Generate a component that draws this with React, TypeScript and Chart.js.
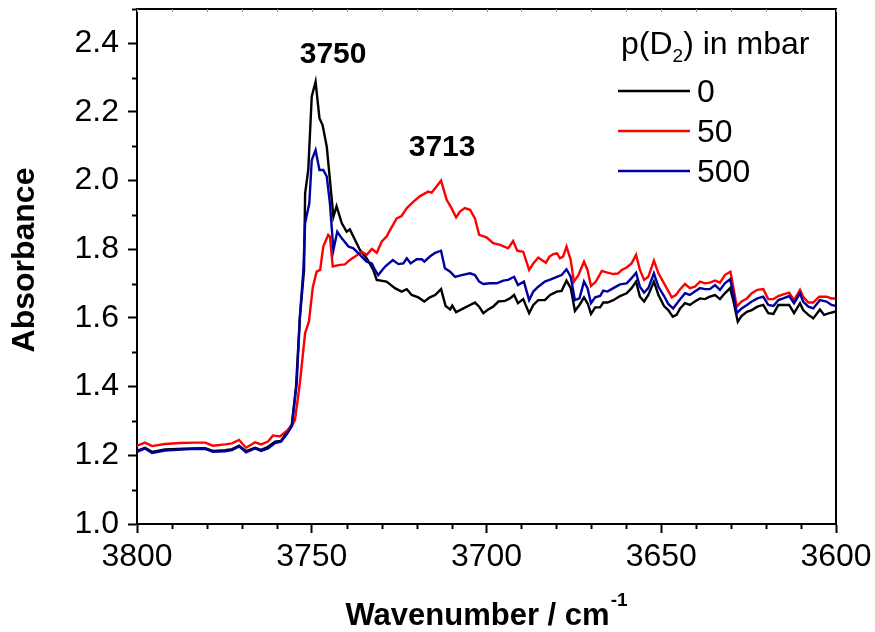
import React, { useEffect, useRef } from "react";
import { Chart, registerables } from "chart.js";

Chart.register(...registerables);

// ---- Data (wavenumber in cm^-1, absorbance) ----
const seriesLabels = ["0", "50", "500"];
const seriesColors = ["#000000", "#ff0000", "#0000a0"];

const wn0 = [3800.0, 3797.7, 3795.7, 3792.0, 3784.8, 3780.5, 3778.3, 3774.8, 3772.8, 3770.8, 3768.8, 3766.2, 3764.5, 3762.5, 3760.5, 3758.8, 3757.1, 3755.7, 3754.5, 3753.4, 3752.2, 3751.9, 3751.0, 3750.0, 3748.9, 3747.8, 3746.9, 3745.7, 3744.8, 3743.8, 3742.9, 3741.4, 3740.0, 3739.1, 3737.6, 3736.2, 3734.3, 3732.4, 3731.4, 3728.6, 3726.2, 3724.3, 3722.8, 3721.4, 3719.5, 3717.8, 3716.2, 3714.7, 3713.0, 3711.7, 3710.4, 3709.8, 3708.7, 3706.6, 3704.7, 3703.3, 3702.1, 3700.9, 3699.5, 3698.1, 3696.6, 3694.7, 3693.3, 3692.1, 3691.0, 3689.5, 3687.8, 3686.6, 3685.2, 3683.3, 3681.8, 3679.9, 3678.5, 3677.1, 3675.9, 3674.7, 3673.4, 3672.1, 3671.0, 3670.1, 3668.9, 3667.5, 3666.6, 3665.4, 3663.7, 3661.8, 3659.9, 3658.5, 3657.2, 3656.1, 3654.9, 3653.7, 3652.1, 3650.8, 3649.2, 3648.0, 3646.7, 3645.6, 3644.6, 3643.2, 3641.8, 3640.4, 3638.9, 3637.5, 3636.1, 3634.6, 3633.2, 3631.8, 3630.3, 3629.4, 3628.1, 3627.0, 3625.5, 3624.1, 3622.5, 3620.8, 3619.4, 3617.9, 3616.5, 3614.6, 3613.4, 3612.0, 3610.3, 3609.4, 3607.9, 3606.5, 3604.6, 3603.4, 3601.9, 3600.0];
const abs0 = [1.213, 1.222, 1.21, 1.217, 1.22, 1.221, 1.213, 1.215, 1.218, 1.228, 1.212, 1.222, 1.216, 1.225, 1.24, 1.242, 1.268, 1.29, 1.4, 1.6, 1.74, 1.963, 2.031, 2.245, 2.288, 2.182, 2.162, 2.099, 2.002, 1.895, 1.926, 1.876, 1.851, 1.858, 1.827, 1.798, 1.774, 1.74, 1.711, 1.706, 1.687, 1.677, 1.684, 1.667, 1.66, 1.648, 1.66, 1.667, 1.684, 1.635, 1.625, 1.636, 1.617, 1.628, 1.638, 1.645, 1.633, 1.614, 1.625, 1.633, 1.648, 1.65, 1.657, 1.667, 1.643, 1.655, 1.614, 1.638, 1.652, 1.652, 1.667, 1.677, 1.679, 1.709, 1.687, 1.621, 1.638, 1.66, 1.641, 1.612, 1.631, 1.631, 1.645, 1.645, 1.652, 1.664, 1.672, 1.687, 1.706, 1.662, 1.648, 1.667, 1.706, 1.667, 1.635, 1.623, 1.604, 1.609, 1.628, 1.643, 1.638, 1.648, 1.657, 1.655, 1.662, 1.667, 1.655, 1.672, 1.687, 1.652, 1.589, 1.606, 1.618, 1.623, 1.633, 1.638, 1.614, 1.612, 1.638, 1.638, 1.638, 1.614, 1.643, 1.623, 1.609, 1.599, 1.625, 1.609, 1.614, 1.619];

const wn50 = [3800.0, 3797.7, 3795.7, 3792.0, 3787.7, 3783.4, 3780.5, 3778.3, 3774.8, 3772.8, 3770.8, 3768.8, 3766.2, 3764.5, 3762.5, 3761.1, 3759.1, 3757.1, 3755.7, 3754.8, 3753.4, 3751.9, 3750.8, 3749.7, 3748.6, 3747.6, 3746.7, 3745.3, 3744.8, 3744.0, 3742.4, 3740.5, 3739.1, 3737.6, 3735.7, 3734.3, 3732.8, 3731.4, 3730.0, 3728.6, 3727.6, 3725.7, 3724.3, 3722.8, 3720.9, 3719.0, 3717.6, 3716.7, 3715.7, 3714.3, 3713.0, 3711.4, 3710.0, 3708.7, 3707.6, 3706.2, 3704.7, 3703.3, 3702.1, 3700.0, 3698.1, 3696.1, 3693.8, 3692.4, 3691.2, 3689.5, 3687.8, 3686.6, 3685.2, 3684.2, 3683.0, 3682.0, 3680.9, 3679.8, 3679.0, 3678.1, 3677.1, 3675.9, 3675.0, 3673.7, 3672.1, 3671.1, 3670.1, 3668.7, 3667.0, 3665.4, 3663.7, 3662.3, 3661.3, 3659.9, 3658.5, 3657.2, 3656.1, 3654.9, 3653.7, 3652.1, 3650.8, 3649.2, 3647.0, 3645.8, 3644.6, 3643.2, 3641.8, 3640.4, 3638.9, 3637.5, 3636.1, 3634.6, 3633.2, 3631.8, 3630.2, 3629.4, 3628.4, 3627.0, 3625.5, 3624.1, 3622.5, 3620.8, 3619.4, 3617.9, 3616.5, 3615.1, 3613.4, 3612.0, 3610.3, 3609.4, 3607.9, 3606.5, 3604.8, 3602.7, 3601.3, 3600.0];
const abs50 = [1.228, 1.237, 1.227, 1.233, 1.236, 1.237, 1.237, 1.228, 1.232, 1.235, 1.245, 1.222, 1.238, 1.232, 1.24, 1.258, 1.255, 1.272, 1.285, 1.303, 1.41, 1.556, 1.59, 1.69, 1.735, 1.74, 1.808, 1.842, 1.837, 1.75, 1.754, 1.756, 1.769, 1.779, 1.793, 1.784, 1.801, 1.79, 1.822, 1.837, 1.856, 1.89, 1.897, 1.92, 1.939, 1.955, 1.963, 1.968, 1.965, 1.983, 2.0, 1.944, 1.92, 1.893, 1.91, 1.92, 1.915, 1.89, 1.842, 1.835, 1.818, 1.813, 1.803, 1.824, 1.796, 1.793, 1.74, 1.759, 1.776, 1.769, 1.761, 1.779, 1.786, 1.788, 1.774, 1.779, 1.808, 1.769, 1.706, 1.725, 1.764, 1.74, 1.693, 1.706, 1.737, 1.732, 1.728, 1.73, 1.74, 1.747, 1.759, 1.784, 1.74, 1.711, 1.72, 1.767, 1.73, 1.701, 1.66, 1.667, 1.684, 1.699, 1.687, 1.691, 1.706, 1.701, 1.703, 1.709, 1.703, 1.725, 1.735, 1.691, 1.633, 1.648, 1.657, 1.672, 1.682, 1.684, 1.655, 1.655, 1.664, 1.669, 1.674, 1.652, 1.682, 1.662, 1.645, 1.645, 1.662, 1.662, 1.657, 1.657];

const wn500 = [3800.0, 3797.7, 3795.7, 3792.0, 3784.8, 3780.5, 3778.3, 3774.8, 3772.8, 3770.8, 3768.8, 3766.2, 3764.5, 3762.5, 3760.5, 3758.8, 3757.1, 3755.7, 3754.3, 3753.4, 3752.4, 3751.9, 3750.7, 3750.0, 3748.9, 3747.8, 3746.7, 3745.7, 3744.8, 3743.8, 3742.7, 3741.4, 3739.5, 3738.1, 3736.2, 3734.3, 3732.8, 3731.9, 3731.0, 3729.0, 3726.8, 3725.2, 3723.8, 3722.8, 3721.7, 3720.0, 3718.5, 3717.8, 3716.2, 3714.7, 3713.0, 3711.9, 3710.4, 3709.0, 3707.1, 3704.7, 3703.3, 3702.1, 3700.9, 3699.0, 3697.1, 3695.2, 3693.8, 3692.1, 3691.0, 3689.3, 3687.8, 3686.6, 3685.2, 3683.3, 3681.4, 3679.9, 3678.5, 3677.1, 3675.9, 3674.7, 3673.4, 3672.1, 3671.1, 3670.1, 3668.9, 3667.5, 3666.6, 3665.4, 3663.7, 3661.8, 3659.9, 3658.5, 3657.2, 3656.1, 3654.9, 3653.7, 3652.1, 3650.8, 3649.2, 3648.0, 3646.6, 3645.1, 3643.2, 3641.8, 3640.4, 3638.9, 3637.5, 3636.1, 3634.6, 3633.2, 3631.8, 3630.3, 3629.4, 3628.4, 3627.0, 3625.5, 3624.1, 3622.5, 3620.8, 3619.4, 3617.9, 3616.5, 3615.1, 3613.4, 3612.0, 3610.3, 3609.4, 3607.9, 3606.5, 3604.6, 3602.7, 3601.3, 3600.0];
const abs500 = [1.21, 1.22, 1.207, 1.214, 1.218, 1.219, 1.21, 1.212, 1.215, 1.226, 1.209, 1.22, 1.213, 1.22, 1.236, 1.24, 1.262, 1.285, 1.41, 1.604, 1.74, 1.876, 1.934, 2.06, 2.089, 2.031, 2.031, 2.012, 1.934, 1.798, 1.851, 1.832, 1.808, 1.803, 1.784, 1.764, 1.759, 1.74, 1.725, 1.75, 1.769, 1.757, 1.759, 1.774, 1.759, 1.771, 1.771, 1.764, 1.779, 1.79, 1.796, 1.745, 1.735, 1.72, 1.725, 1.73, 1.725, 1.706, 1.699, 1.701, 1.701, 1.709, 1.711, 1.72, 1.696, 1.706, 1.652, 1.677, 1.691, 1.706, 1.713, 1.72, 1.725, 1.742, 1.72, 1.652, 1.657, 1.706, 1.687, 1.643, 1.66, 1.664, 1.68, 1.677, 1.687, 1.698, 1.701, 1.716, 1.732, 1.691, 1.674, 1.687, 1.73, 1.691, 1.664, 1.641, 1.628, 1.648, 1.672, 1.667, 1.677, 1.687, 1.684, 1.684, 1.696, 1.682, 1.701, 1.713, 1.672, 1.614, 1.628, 1.638, 1.648, 1.657, 1.662, 1.638, 1.635, 1.652, 1.657, 1.664, 1.643, 1.672, 1.648, 1.633, 1.628, 1.652, 1.648, 1.638, 1.635];

const xRange = [3600, 3800];
const yRange = [1.0, 2.5];
const xMajorStep = 50;
const xMinorStep = 10;
const yMajorStep = 0.2;
const yMinorStep = 0.1;

const peakLabels = [
  { text: "3750", x: 3743.9, y: 2.366 },
  { text: "3713", x: 3712.7, y: 2.095 },
];

const FONT = '"Liberation Sans", Arial, Helvetica, sans-serif';

const decorPlugin = {
  id: "decor",
  afterDraw(chart: any) {
    const { ctx, chartArea, scales } = chart;
    const { left, right, top, bottom } = chartArea;
    const xs = scales.x;
    const ys = scales.y;
    ctx.save();
    ctx.strokeStyle = "#000";
    ctx.lineWidth = 2;
    // top and right frame
    ctx.beginPath();
    ctx.moveTo(left - 1, top);
    ctx.lineTo(right, top);
    ctx.lineTo(right, bottom + 1);
    ctx.stroke();

    // minor ticks x (bottom outside), small inner ticks on top
    const nx = Math.round((xRange[1] - xRange[0]) / xMinorStep);
    for (let k = 0; k <= nx; k++) {
      const v = xRange[0] + k * xMinorStep;
      const px = Math.round(xs.getPixelForValue(v)) + 0.5;
      if (v % xMajorStep !== 0) {
        ctx.lineWidth = 2;
        ctx.strokeStyle = "#000";
        ctx.beginPath();
        ctx.moveTo(px, bottom);
        ctx.lineTo(px, bottom + 5);
        ctx.stroke();
      }
      ctx.lineWidth = 1;
      ctx.strokeStyle = "#999";
      ctx.beginPath();
      ctx.moveTo(px, top);
      ctx.lineTo(px, top + 3);
      ctx.stroke();
    }
    // minor ticks y
    const ny = Math.round((yRange[1] - yRange[0]) / yMinorStep);
    for (let k = 1; k <= ny; k++) {
      if (k % Math.round(yMajorStep / yMinorStep) === 0) continue;
      const v = yRange[0] + k * yMinorStep;
      const py = Math.round(ys.getPixelForValue(v)) + 0.5;
      ctx.lineWidth = 2;
      ctx.strokeStyle = "#000";
      ctx.beginPath();
      ctx.moveTo(left - 5, py);
      ctx.lineTo(left, py);
      ctx.stroke();
    }

    ctx.fillStyle = "#000";
    // peak annotations
    ctx.font = `bold 30px ${FONT}`;
    ctx.textAlign = "center";
    ctx.textBaseline = "middle";
    peakLabels.forEach((p) => {
      ctx.fillText(p.text, xs.getPixelForValue(p.x), ys.getPixelForValue(p.y));
    });

    // y axis title
    ctx.save();
    ctx.translate(25, 260);
    ctx.rotate(-Math.PI / 2);
    ctx.font = `bold 32px ${FONT}`;
    ctx.textAlign = "center";
    ctx.textBaseline = "middle";
    ctx.fillText("Absorbance", 0, 0);
    ctx.restore();

    // x axis title with superscript
    ctx.textBaseline = "alphabetic";
    ctx.textAlign = "left";
    const main = "Wavenumber / cm";
    ctx.font = `bold 31px ${FONT}`;
    const wMain = ctx.measureText(main).width;
    ctx.font = `bold 19px ${FONT}`;
    const wSup = ctx.measureText("-1").width;
    const cx = (left + right) / 2;
    const x0 = cx - (wMain + wSup + 1) / 2;
    ctx.font = `bold 31px ${FONT}`;
    ctx.fillText(main, x0, 625);
    ctx.font = `bold 19px ${FONT}`;
    ctx.fillText("-1", x0 + wMain + 1, 606);

    // legend
    const lx0 = right - 218;
    ctx.font = `32px ${FONT}`;
    let tx = right - 215;
    const tBase = 54;
    const parts1 = "p(D";
    ctx.fillText(parts1, tx, tBase);
    tx += ctx.measureText(parts1).width;
    ctx.font = `19px ${FONT}`;
    ctx.fillText("2", tx, tBase + 8);
    tx += ctx.measureText("2").width;
    ctx.font = `32px ${FONT}`;
    ctx.fillText(") in mbar", tx, tBase);

    const rowY = [91, 131, 171];
    seriesLabels.forEach((lab, i) => {
      ctx.strokeStyle = seriesColors[i];
      ctx.lineWidth = 2.5;
      ctx.beginPath();
      ctx.moveTo(lx0, rowY[i]);
      ctx.lineTo(lx0 + 72, rowY[i]);
      ctx.stroke();
      ctx.fillStyle = "#000";
      ctx.font = `32px ${FONT}`;
      ctx.fillText(lab, lx0 + 79, rowY[i] + 11);
    });
    ctx.restore();
  },
};

export default function App() {
  const ref = useRef<HTMLCanvasElement | null>(null);
  useEffect(() => {
    if (!ref.current) return;
    const series = [
      { x: wn0, y: abs0 },
      { x: wn50, y: abs50 },
      { x: wn500, y: abs500 },
    ];
    const orders = [3, 2, 1];
    const chart = new Chart(ref.current, {
      type: "line",
      data: {
        datasets: series.map((s, i) => ({
          label: seriesLabels[i],
          data: s.x.map((xv, j) => ({ x: xv, y: s.y[j] })),
          borderColor: seriesColors[i],
          backgroundColor: seriesColors[i],
          borderWidth: 2.4,
          pointRadius: 0,
          tension: 0,
          fill: false,
          order: orders[i],
        })),
      },
      options: {
        responsive: false,
        animation: false,
        devicePixelRatio: 1,
        layout: { padding: { left: 0, top: 9, right: 39, bottom: 0 } },
        plugins: { legend: { display: false }, tooltip: { enabled: false } },
        scales: {
          x: {
            type: "linear",
            reverse: true,
            min: xRange[0],
            max: xRange[1],
            afterFit: (s: any) => {
              s.height = 108;
              s.paddingLeft = 0;
              s.paddingRight = 0;
            },
            border: { display: true, color: "#000", width: 2 },
            grid: {
              drawOnChartArea: false,
              drawTicks: true,
              tickLength: 9,
              tickWidth: 2,
              tickColor: "#000",
            },
            ticks: {
              stepSize: xMajorStep,
              color: "#000",
              font: { family: FONT, size: 32 },
              padding: 5,
              maxRotation: 0,
              callback: (v: any) => String(v),
            },
          },
          y: {
            type: "linear",
            min: yRange[0],
            max: yRange[1],
            afterFit: (s: any) => {
              s.width = 137;
              s.paddingTop = 0;
              s.paddingBottom = 0;
            },
            border: { display: true, color: "#000", width: 2 },
            grid: {
              drawOnChartArea: false,
              drawTicks: true,
              tickLength: 9,
              tickWidth: 2,
              tickColor: "#000",
            },
            ticks: {
              stepSize: yMajorStep,
              includeBounds: false,
              color: "#000",
              font: { family: FONT, size: 32 },
              padding: 9,
              callback: (v: any) => Number(v).toFixed(1),
            },
          },
        },
      },
      plugins: [decorPlugin],
    });
    return () => chart.destroy();
  }, []);
  return (
    <div style={{ position: "fixed", left: 0, top: 0, width: 875, height: 632, background: "#fff" }}>
      <canvas ref={ref} width={875} height={632} style={{ display: "block", width: 875, height: 632 }} />
    </div>
  );
}
